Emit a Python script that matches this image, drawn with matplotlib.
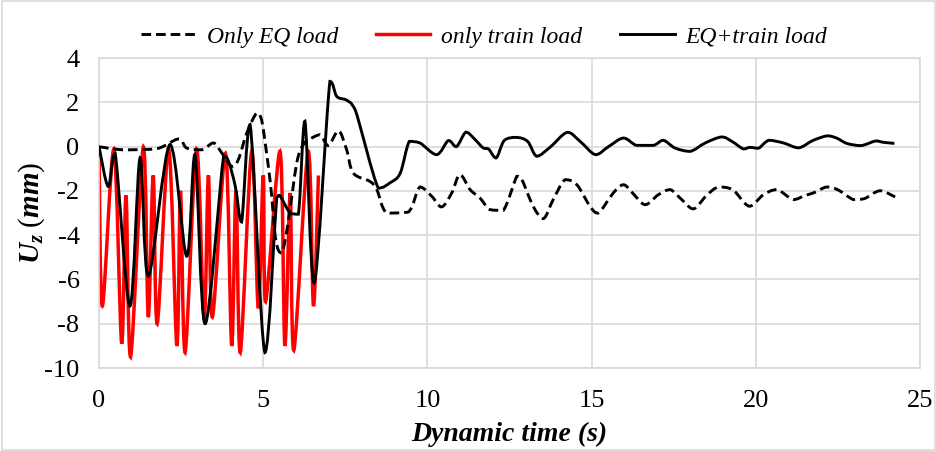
import matplotlib
matplotlib.use("Agg")
import matplotlib.pyplot as plt
from matplotlib.path import Path
from matplotlib.patches import PathPatch
from matplotlib.lines import Line2D

# (time in s, Uz in mm)
t_eq = [0.0, 0.74, 1.76, 2.42, 2.67, 3.13, 3.48, 3.7, 4.04, 4.24, 4.5, 4.8, 4.95,
        5.21, 5.38, 5.56, 5.75, 6.02, 6.22, 6.43, 6.73, 6.98, 7.29, 7.54, 7.74,
        8.25, 8.46, 8.76, 9.42, 9.77, 10.13, 10.43, 10.74, 10.99, 11.3, 11.6,
        11.9, 12.31, 12.72, 12.85, 13.22, 13.53, 13.83, 14.19, 14.55, 14.95,
        15.2, 15.66, 15.97, 16.25, 16.63, 17.03, 17.39, 17.75, 18.1, 18.5,
        18.86, 19.3, 19.8, 20.23, 20.64, 21.14, 21.5, 21.75, 22.16, 22.5,
        22.97, 23.3, 23.78, 24.24]
uz_eq = [0.0, -0.14, -0.09, 0.35, -0.06, -0.14, 0.17, -0.2, -0.89, -0.59, 0.62,
         1.52, 1.22, -1.55, -4.2, -4.8, -3.5, -0.74, 0.09, 0.35, 0.54, 0.05, 0.72,
         -0.14, -1.19, -1.57, -1.95, -3.0, -2.95, -1.82, -2.24, -2.72, -2.09,
         -1.26, -1.94, -2.32, -2.84, -2.88, -1.34, -1.4, -2.69, -3.25, -2.39,
         -1.49, -1.72, -2.69, -3.0, -2.09, -1.72, -2.1, -2.62, -2.17, -1.94,
         -2.4, -2.81, -2.2, -1.82, -1.95, -2.69, -2.17, -1.94, -2.39, -2.2,
         -2.09, -1.82, -1.95, -2.39, -2.35, -1.99, -2.27]

t_train = [0.0, 0.1, 0.45, 0.69, 0.82, 0.96, 1.35, 1.5, 1.65, 1.77, 2.12, 2.37,
           2.48, 2.62, 2.97, 3.2, 3.33, 3.45, 3.85, 4.04, 4.17, 4.3, 4.65, 4.85,
           5.0, 5.07, 5.51, 5.66, 5.82, 5.93, 6.37, 6.53, 6.68]
uz_train = [-0.3, -7.2, -0.1, -8.9, -2.2, -9.5, 0.0, -7.7, -1.3, -8.0, -0.1, -9.0,
            -2.0, -9.3, -0.1, -7.8, -1.3, -7.7, -0.3, -9.0, -2.0, -9.3, -0.2, -7.3,
            -1.3, -7.0, -0.2, -9.0, -2.1, -9.2, -0.2, -7.2, -1.3]

t_both = [0.0, 0.28, 0.49, 0.94, 1.25, 1.5, 2.16, 2.67, 2.92, 3.23, 3.79, 3.95,
          4.15, 4.34, 4.6, 5.05, 5.41, 5.5, 5.82, 6.07, 6.27, 6.55, 7.03, 7.24,
          7.54, 7.8, 8.5, 8.86, 9.17, 9.45, 9.77, 10.28, 10.64, 10.88, 11.17,
          11.4, 11.7, 11.86, 12.09, 12.34, 12.7, 13.05, 13.33, 13.73, 14.26,
          14.65, 15.12, 15.51, 15.97, 16.37, 16.88, 17.18, 17.54, 18.0, 18.46,
          18.96, 19.27, 19.62, 19.82, 20.08, 20.4, 20.84, 21.3, 21.75, 22.18,
          22.46, 22.77, 23.2, 23.65, 23.88, 24.22]
uz_both = [0.0, -1.8, -0.3, -7.2, -0.5, -5.85, 0.1, -4.95, -0.35, -8.0, -0.45, -0.7,
           -1.8, -3.4, 1.0, -9.3, -2.3, -2.2, -3.0, -3.05, 1.15, -6.15, 2.95, 2.27,
           2.1, 1.67, -1.87, -1.63, -1.2, 0.24, 0.17, -0.36, 0.28, 0.0, 0.66,
           0.4, -0.06, -0.1, -0.51, 0.28, 0.42, 0.24, -0.43, -0.03, 0.65,
           0.24, -0.36, 0.0, 0.39, 0.06, 0.06, 0.29, -0.06, -0.21, 0.17,
           0.44, 0.24, -0.1, -0.03, -0.07, 0.29, 0.17, -0.05, 0.29, 0.49,
           0.39, 0.15, 0.05, 0.26, 0.2, 0.15]

x_ticks = [0, 5, 10, 15, 20, 25]
y_ticks = [-10, -8, -6, -4, -2, 0, 2, 4]


def clamp(v, a, b):
    return min(max(v, min(a, b)), max(a, b))


# Excel style "smoothed line": cubic bezier through every data point,
# control points kept inside each segment so the curve doesn't overshoot
def smooth_path(x, y):
    n = len(x)
    verts = [(x[0], y[0])]
    codes = [Path.MOVETO]
    for i in range(n - 1):
        a = max(i - 1, 0)
        b = min(i + 2, n - 1)
        c1x = clamp(x[i] + (x[i + 1] - x[a]) / 6, x[i], x[i + 1])
        c1y = clamp(y[i] + (y[i + 1] - y[a]) / 6, y[i], y[i + 1])
        c2x = clamp(x[i + 1] - (x[b] - x[i]) / 6, x[i], x[i + 1])
        c2y = clamp(y[i + 1] - (y[b] - y[i]) / 6, y[i], y[i + 1])
        verts += [(c1x, c1y), (c2x, c2y), (x[i + 1], y[i + 1])]
        codes += [Path.CURVE4] * 3
    return Path(verts, codes)


plt.rcParams['font.family'] = ['Liberation Serif', 'DejaVu Serif']
plt.rcParams['axes.unicode_minus'] = False
plt.rcParams['mathtext.fontset'] = 'custom'
plt.rcParams['mathtext.rm'] = 'Liberation Serif'
plt.rcParams['mathtext.it'] = 'Liberation Serif:italic:bold'
plt.rcParams['mathtext.bf'] = 'Liberation Serif:bold'

fig = plt.figure(figsize=(9.37, 4.51), dpi=100)
ax = fig.add_axes([0.1057, 0.184, 0.8762, 0.687])

grid_col = '#d9d9d9'
dash = (0, (3.3, 1.7))
series = [
    (t_eq, uz_eq, dict(color='black', lw=2.1, ls=dash), 'Only EQ load', 3),
    (t_train, uz_train, dict(color='#ff0000', lw=2.5, ls='-'), 'only train load', 2),
    (t_both, uz_both, dict(color='black', lw=2.1, ls='-'), 'EQ+train load', 4),
]
handles = []
for t, u, st, name, z in series:
    ax.add_patch(PathPatch(smooth_path(t, u), fill=False, edgecolor=st['color'],
                           lw=st['lw'], ls=st['ls'], zorder=z, capstyle='butt'))
    handles.append(Line2D([], [], color=st['color'], lw=st['lw'], ls=st['ls'], label=name))

ax.set_xlim(0, 25)
ax.set_ylim(-10, 4)
ax.set_xticks(x_ticks)
ax.set_yticks(y_ticks)
ax.grid(True, color=grid_col, lw=1.2)
ax.set_axisbelow(True)
for s in ax.spines.values():
    s.set_color(grid_col)
    s.set_linewidth(1.2)
ax.tick_params(axis='x', length=0, labelsize=19, pad=16)
ax.tick_params(axis='y', length=0, labelsize=19, pad=14)

ax.set_xlabel('Dynamic time (s)', fontsize=20, fontweight='bold', style='italic', labelpad=7)
ax.set_ylabel(r'$U_z$ $\mathit{(mm)}$', fontsize=21, labelpad=-2)

fig.legend(handles=handles, loc='center', bbox_to_anchor=(0.517, 0.918), ncol=3, frameon=False,
           prop={'family': 'Liberation Serif', 'style': 'italic', 'size': 17},
           handlelength=2.3, columnspacing=1.6, handletextpad=0.47)

# light chart border like the Excel chart area
fig.patches.append(plt.Rectangle((0.002, 0.003), 0.996, 0.994, transform=fig.transFigure,
                                 fill=False, edgecolor=grid_col, lw=1.2))

fig.savefig('out.png', dpi=100)
